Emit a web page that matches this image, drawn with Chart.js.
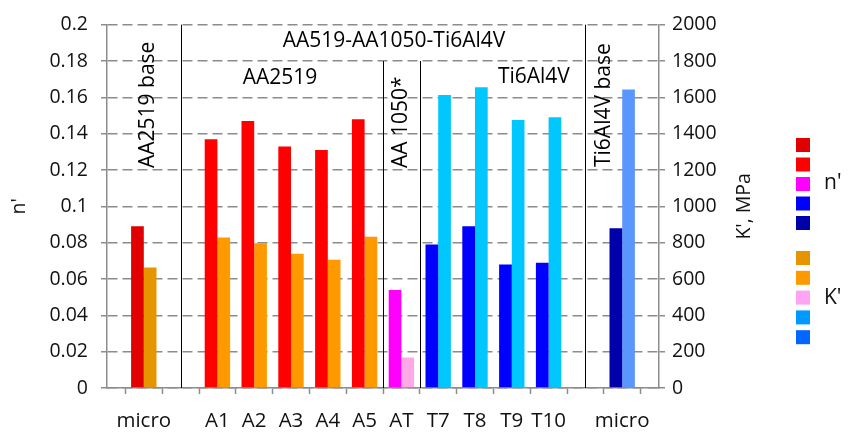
<!DOCTYPE html>
<html>
<head>
<meta charset="utf-8">
<script src="https://cdn.jsdelivr.net/npm/chart.js@4"></script>
<style>
  html, body { margin: 0; padding: 0; background: #fff; }
  #wrap { width: 851px; height: 434px; }
</style>
</head>
<body>
<div id="wrap"><canvas id="chart" width="851" height="434"></canvas></div>
<script>
/* ── Data ── */
const categories = ['', 'micro', '', 'A1', 'A2', 'A3', 'A4', 'A5', 'AT', 'T7', 'T8', 'T9', 'T10', '', 'micro', ''];
const nValues = [null, 0.089, null, 0.137, 0.147, 0.133, 0.131, 0.148, 0.054, 0.079, 0.089, 0.068, 0.069, null, 0.088, null];
const kValues = [null, 663, null, 829, 797, 739, 706, 833, 168, 1613, 1655, 1476, 1490, null, 1643, null];

const nColors = ['', '#E00000', '', '#FF0000', '#FF0000', '#FF0000', '#FF0000', '#FF0000', '#FF00FF', '#0000FF', '#0000FF', '#0000FF', '#0000FF', '', '#0000AA', ''];
const kColors = ['', '#E69500', '', '#FF9900', '#FF9900', '#FF9900', '#FF9900', '#FF9900', '#FFA8E8', '#00C8FF', '#00C8FF', '#00C8FF', '#00C8FF', '', '#5B96FF', ''];

const nTickLabels = ['0', '0.02', '0.04', '0.06', '0.08', '0.1', '0.12', '0.14', '0.16', '0.18', '0.2'];
const kTickLabels = ['0', '200', '400', '600', '800', '1000', '1200', '1400', '1600', '1800', '2000'];

const nLegendColors = ['#E00000', '#FF0000', '#FF00FF', '#0000FF', '#0000AA'];
const kLegendColors = ['#E69500', '#FF9900', '#FFA3F5', '#0099FF', '#0066FF'];

const FONT = '"Open Sans", sans-serif';
const GRID = '#8c8c8c';
const TEXT = '#111';

/* ── Separators, group captions, axis titles, legend ── */
const decor = {
  id: 'decor',
  afterDraw(chart) {
    const { ctx, chartArea: area, scales: { x, y } } = chart;
    ctx.save();

    // vertical group separators
    ctx.strokeStyle = '#000';
    ctx.lineWidth = 1;
    [[2, 0.2], [7.5, 0.18], [8.5, 0.18], [13, 0.2]].forEach(([idx, top]) => {
      const px = Math.round(x.getPixelForValue(idx)) + 0.5;
      ctx.beginPath();
      ctx.moveTo(px, y.getPixelForValue(top));
      ctx.lineTo(px, area.bottom);
      ctx.stroke();
    });

    ctx.fillStyle = '#000';
    ctx.font = '21px ' + FONT;
    ctx.textBaseline = 'alphabetic';
    ctx.textAlign = 'center';
    ctx.fillText('AA519-AA1050-Ti6Al4V', x.getPixelForValue(7.5) + 11, 47);
    ctx.fillText('AA2519', x.getPixelForValue(4.7), 84);
    ctx.fillText('Ti6Al4V', x.getPixelForValue(11.6), 83);

    // rotated captions, reading bottom to top
    const vtext = (str, px, py) => {
      ctx.save();
      ctx.translate(px, py);
      ctx.rotate(-Math.PI / 2);
      ctx.textAlign = 'left';
      ctx.fillText(str, 0, 0);
      ctx.restore();
    };
    vtext('AA2519 base', x.getPixelForValue(1) + 10, 168);
    vtext('AA 1050*', x.getPixelForValue(8) + 6, 168);
    vtext('Ti6Al4V base', x.getPixelForValue(13) + 25, 167);

    // axis titles
    ctx.font = '19.5px ' + FONT;
    ctx.fillStyle = TEXT;
    ctx.textBaseline = 'middle';
    ctx.save();
    ctx.translate(19, (area.top + area.bottom) / 2);
    ctx.rotate(-Math.PI / 2);
    ctx.textAlign = 'center';
    ctx.fillText("n'", 0, 0);
    ctx.restore();
    ctx.save();
    ctx.translate(744, (area.top + area.bottom) / 2);
    ctx.rotate(-Math.PI / 2);
    ctx.textAlign = 'center';
    ctx.fillText("K', MPa", 0, 0);
    ctx.restore();

    // legend: one column of swatches per series
    const sw = 14, lx = 796;
    nLegendColors.forEach((c, i) => {
      ctx.fillStyle = c;
      ctx.fillRect(lx, 138 + i * 19.5, sw, sw);
    });
    kLegendColors.forEach((c, i) => {
      ctx.fillStyle = c;
      ctx.fillRect(lx, 251 + i * 19.8, sw, sw);
    });
    ctx.fillStyle = TEXT;
    ctx.font = '21px ' + FONT;
    ctx.textAlign = 'left';
    ctx.fillText("n'", 824, 183);
    ctx.fillText("K'", 824, 298);

    ctx.restore();
  }
};

const tickFont = { family: FONT, size: 19.5 };

new Chart(document.getElementById('chart'), {
  type: 'bar',
  data: {
    labels: categories,
    datasets: [
      { label: "n'", data: nValues, backgroundColor: nColors, yAxisID: 'y', categoryPercentage: 0.69, barPercentage: 1 },
      { label: "K'", data: kValues, backgroundColor: kColors, yAxisID: 'y1', categoryPercentage: 0.69, barPercentage: 1 }
    ]
  },
  options: {
    responsive: false,
    animation: false,
    layout: { padding: { top: 19.5, right: 132, left: 0, bottom: 0 } },
    plugins: { legend: { display: false }, tooltip: { enabled: false } },
    scales: {
      x: {
        offset: false,
        grid: { drawOnChartArea: false, tickLength: 6, tickColor: GRID, tickWidth: 1.5 },
        border: { color: GRID, width: 1.5 },
        ticks: { autoSkip: false, maxRotation: 0, font: { family: FONT, size: 20.5 }, color: TEXT, padding: 15 },
        afterFit: s => { s.height = 46; }
      },
      y: {
        position: 'left',
        min: 0, max: 0.2,
        ticks: { stepSize: 0.02, callback: (v, i) => nTickLabels[i], font: tickFont, color: TEXT, padding: 13 },
        grid: { color: GRID, lineWidth: 1.5, tickLength: 6, tickBorderDash: [] },
        border: { color: GRID, width: 1.5, dash: [10, 5] },
        afterFit: s => { s.width = 107; }
      },
      y1: {
        position: 'right',
        min: 0, max: 2000,
        ticks: { stepSize: 200, callback: (v, i) => kTickLabels[i], font: tickFont, color: TEXT, padding: 7 },
        grid: { drawOnChartArea: false, color: GRID, lineWidth: 1.5, tickLength: 6 },
        border: { color: GRID, width: 1.5 },
        afterFit: s => { s.width = 60; }
      }
    }
  },
  plugins: [decor]
});
</script>
</body>
</html>
